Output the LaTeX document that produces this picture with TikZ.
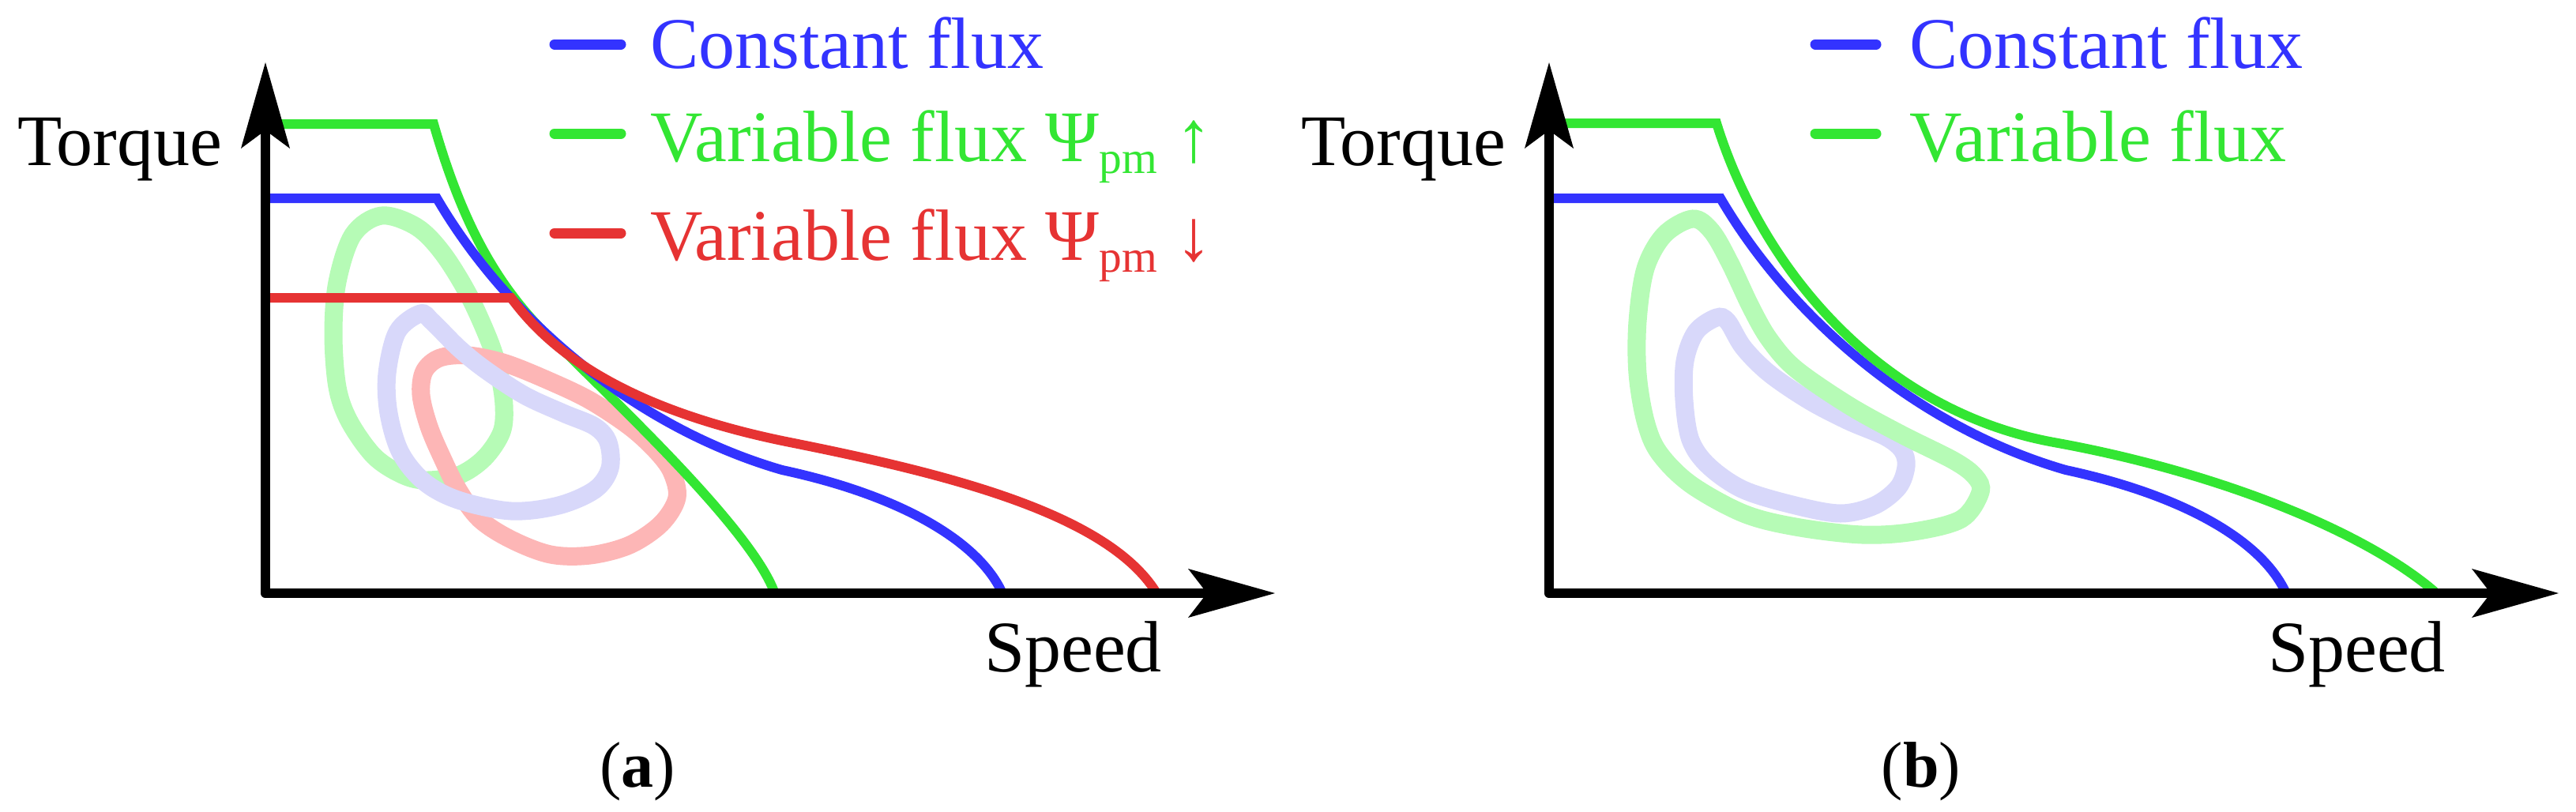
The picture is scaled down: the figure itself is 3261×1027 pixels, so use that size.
\documentclass[tikz,border=0pt]{standalone}
\usepackage{fontspec}
\setmainfont{Liberation Serif}
\definecolor{cblue}{RGB}{51,51,255}
\definecolor{cgreen}{RGB}{51,230,51}
\definecolor{cred}{RGB}{230,51,51}
\definecolor{lgreen}{RGB}{182,251,182}
\definecolor{lblue}{RGB}{216,216,250}
\definecolor{lred}{RGB}{253,182,182}
\newcommand{\lblfont}{\fontsize{18.4}{22}\selectfont}
\newcommand{\capfont}{\fontsize{16.4}{20}\selectfont}
\newcommand{\psipm}{Ψ\raisebox{-3pt}{\fontsize{11.5}{14}\selectfont pm}}
\tikzset{
  curve/.style={line width=2.4pt},
  loopline/.style={line width=4.6pt},
  axisline/.style={line width=2.5pt, line join=round},
  legline/.style={line width=2.6pt, line cap=round},
  lbl/.style={inner sep=0pt, font=\lblfont, anchor=base west},
  caplbl/.style={inner sep=0pt, font=\capfont, anchor=base},
}
\newcommand{\axes}{%
  \draw[axisline] (336,165) -- (336,751) -- (1528,751);
  \fill (336,79) -- (367,188) -- (336,165) -- (305,188) -- cycle;
  \fill (1614,751) -- (1504,720) -- (1528,751) -- (1504,782) -- cycle;
}
\newcommand{\bluecurve}{%
  \draw[curve, cblue] (336,251) -- (553,251)
     .. controls (640,400) and (800,540) .. (990,595)
     .. controls (1130,625) and (1235,680) .. (1268,749);
}
\begin{document}
\begin{tikzpicture}[x=0.2pt,y=-0.2pt]
\useasboundingbox (0,0) rectangle (3261,1027);

% ---------------- panel (a) ----------------
% operating-region loops
\draw[loopline, lgreen] plot[smooth cycle, tension=0.55] coordinates {(483,273) (527,287) (560,320) (593,373) (620,433) (632,473) (638,513) (635,547) (613,580) (580,602) (537,608) (507,600) (473,577) (442,533) (427,490) (422,423) (427,357) (447,297)};
\draw[loopline, lred] plot[smooth cycle, tension=0.55] coordinates {(557,453) (593,450) (640,460) (697,483) (747,507) (797,540) (830,570) (850,597) (857,630) (837,663) (797,690) (747,703) (697,702) (647,683) (607,657) (580,620) (560,580) (543,540) (533,500) (537,470)};
\draw[loopline, lblue] plot[smooth cycle, tension=0.55] coordinates {(532,397) (547,407) (580,440) (613,467) (663,500) (713,523) (753,540) (770,560) (772,593) (753,620) (707,640) (647,647) (580,633) (537,610) (507,573) (492,523) (490,473) (503,420)};

% torque-speed curves
\draw[curve, cgreen] (336,157) -- (549,157)
   .. controls (590,300) and (640,380) .. (720,450)
   .. controls (785,515) and (950,670) .. (980,749);
\bluecurve
\draw[curve, cred] (336,377) -- (647,377)
   .. controls (700,450) and (800,520) .. (1000,560)
   .. controls (1200,600) and (1400,650) .. (1463,749);

\axes
\node[lbl] (torqueA) at (21,209) {Torque};
\node[lbl] (speedA) at (1245,850) {Speed};

% legend (a)
\draw[legline, cblue] (702,56) -- (786,56);
\draw[legline, cgreen] (702,169) -- (786,169);
\draw[legline, cred] (702,295) -- (786,295);
\node[lbl, text=cblue] (legA1) at (822,86) {Constant flux};
\node[lbl, text=cgreen] (legA2) at (822,204) {Variable flux \psipm{} ↑};
\node[lbl, text=cred] (legA3) at (822,329) {Variable flux \psipm{} ↓};

\node[caplbl] (capA) at (807,996) {(\textbf{a})};

% ---------------- panel (b) ----------------
\draw[loopline, lblue] plot[smooth cycle, tension=0.55] coordinates {(2173,402) (2187,407) (2207,440) (2240,473) (2290,507) (2340,533) (2387,553) (2408,570) (2413,590) (2403,617) (2373,640) (2330,650) (2273,640) (2207,620) (2163,590) (2140,557) (2132,507) (2133,457) (2147,420)};
\draw[loopline, lgreen] plot[smooth cycle, tension=0.55] coordinates {(2143,277) (2167,293) (2190,333) (2217,390) (2240,430) (2273,467) (2340,513) (2407,550) (2473,583) (2500,603) (2507,623) (2483,657) (2423,673) (2357,677) (2273,667) (2207,650) (2140,613) (2100,573) (2083,533) (2073,473) (2073,407) (2083,340) (2107,297)};

\begin{scope}[shift={(1625,0)}]
\bluecurve
\end{scope}
\draw[curve, cgreen] (1961,156) -- (2173,156)
   .. controls (2230,340) and (2380,520) .. (2600,560)
   .. controls (2800,596) and (2990,670) .. (3082,749);

\begin{scope}[shift={(1625,0)}]
\axes
\end{scope}
\node[lbl] (torqueB) at (1646,209) {Torque};
\node[lbl] (speedB) at (2870,850) {Speed};

% legend (b)
\draw[legline, cblue] (2298,56) -- (2375,56);
\draw[legline, cgreen] (2298,169) -- (2375,169);
\node[lbl, text=cblue] (legB1) at (2416,86) {Constant flux};
\node[lbl, text=cgreen] (legB2) at (2416,204) {Variable flux};

\node[caplbl] (capB) at (2432,996) {(\textbf{b})};
\end{tikzpicture}
\end{document}
